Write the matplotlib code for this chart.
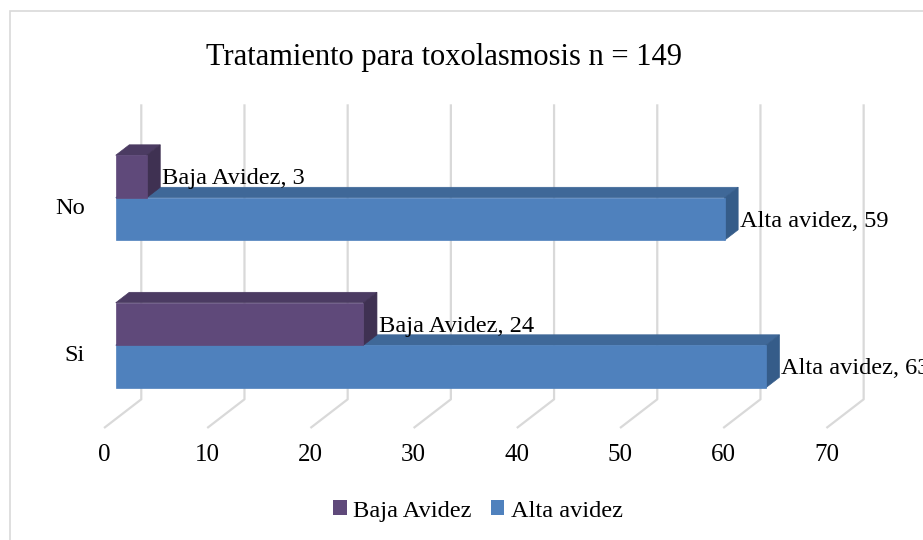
import matplotlib.pyplot as plt
from matplotlib.patches import Polygon, Patch, Rectangle
import numpy as np

plt.rcParams['font.family'] = ['Liberation Serif', 'DejaVu Serif']

# data
categories = ['Si', 'No']
baja = [24, 3]
alta = [63, 59]
series_names = ['Baja Avidez', 'Alta avidez']
x_ticks = [0, 10, 20, 30, 40, 50, 60, 70]
title = 'Tratamiento para toxolasmosis n = 149'

# style
c_baja = ('#5F497A', '#4B3B62', '#3F3152')   # front, top, side
c_alta = ('#4F81BD', '#3F6898', '#355C89')
grid_c = '#D9D9D9'

# pseudo 3d projection: depth d in [0, 1] shifts right/up
DX, DY = 3.61, 0.1946
D0, D1 = 0.314, 0.678
BAR_H = 0.288


def P(v, c, d):
    return (v + DX * d, c + DY * d)


fig = plt.figure(figsize=(9.23, 5.40), dpi=100)
ax = fig.add_axes([0, 0, 1, 1])
ax.set_xlim(-10.08, 79.36)
ax.set_ylim(-1.2593, 2.4017)
ax.axis('off')

# chart border
fig.patches.append(Rectangle((9.5 / 923, -0.1), 1.2, 1 - 10.5 / 540 + 0.1,
                             transform=fig.transFigure, fill=False,
                             edgecolor='#D9D9D9', lw=1.2))

# grid (floor ticks + back wall)
for v in x_ticks:
    xs, ys = zip(P(v, -0.5, 0), P(v, -0.5, 1), P(v, 1.5, 1))
    ax.plot(xs, ys, color=grid_c, lw=1.6, zorder=1, solid_capstyle='butt')
    ax.text(v, -0.5 - 0.183, str(v), ha='center', va='center', fontsize=18)


def bar3d(val, c0, c1, cols):
    front = [P(0, c0, D0), P(val, c0, D0), P(val, c1, D0), P(0, c1, D0)]
    top = [P(0, c1, D0), P(val, c1, D0), P(val, c1, D1), P(0, c1, D1)]
    side = [P(val, c0, D0), P(val, c0, D1), P(val, c1, D1), P(val, c1, D0)]
    for poly, col in zip((top, side, front), (cols[1], cols[2], cols[0])):
        ax.add_patch(Polygon(poly, closed=True, facecolor=col,
                             edgecolor=col, lw=0.5, zorder=3))


for i in range(len(categories) - 1, -1, -1):
    # blue below, purple above
    bar3d(alta[i], i - BAR_H, i, c_alta)
    bar3d(baja[i], i, i + BAR_H, c_baja)
    for val, cm, name in ((alta[i], i - BAR_H / 2, series_names[1]),
                          (baja[i], i + BAR_H / 2, series_names[0])):
        x, _ = P(val, cm, D1)
        _, y = P(val, cm, D0)
        ax.text(x + 0.15, y - 0.015, f'{name}, {val}', ha='left',
                va='center', fontsize=17.6, zorder=5)
    ax.text(-1.84, i - 0.01, categories[i], ha='right', va='center',
            fontsize=17.6)

fig.text(444.5 / 923, 1 - 57 / 540, title, ha='center', va='center',
         fontsize=22)

handles = [Patch(facecolor=c_baja[0]), Patch(facecolor=c_alta[0])]
fig.legend(handles, series_names, loc='center', ncol=2,
           bbox_to_anchor=(478 / 923, 1 - 511 / 540), frameon=False,
           fontsize=17.6, handlelength=0.55, handleheight=0.55,
           handletextpad=0.25, columnspacing=0.8)

plt.savefig('out.png', dpi=100)
